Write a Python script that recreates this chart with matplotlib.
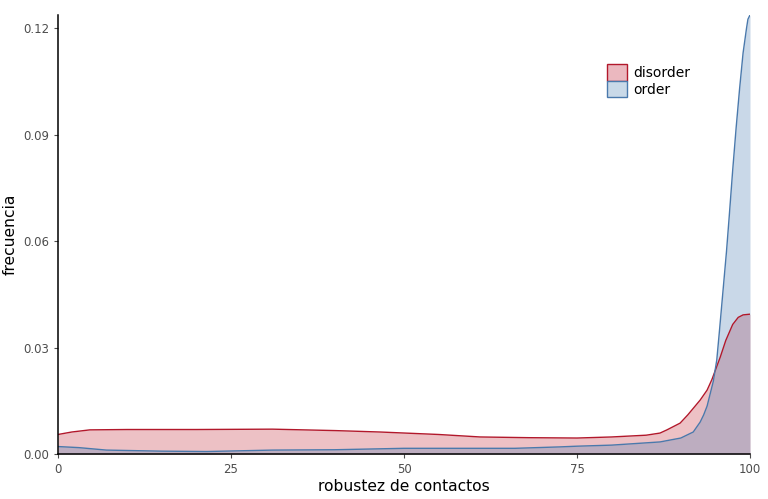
import numpy as np
from matplotlib import pyplot as plt
from matplotlib.patches import Patch

# density estimates
x_disorder = [0, 2, 4.6, 10, 20, 31, 40, 46.5, 55, 61, 68, 75, 80, 85, 87, 88,
              89.9, 91, 92.8, 93.8, 94.5, 95.7, 96.5, 97.5, 98.3, 99, 100]
y_disorder = [0.0055, 0.0062, 0.0068, 0.0069, 0.0069, 0.0070, 0.0066, 0.0062,
              0.0055, 0.0048, 0.0046, 0.0045, 0.0048, 0.0053, 0.0059, 0.0068,
              0.0087, 0.0110, 0.0152, 0.0180, 0.0210, 0.0273, 0.0320, 0.0365,
              0.0385, 0.0392, 0.0394]

x_order = [0, 3, 7, 15, 21.5, 31, 40, 50, 60, 66, 72.5, 75, 80, 87, 90,
           91.8, 92.8, 93.3, 93.8, 94.7, 95.2, 95.6, 96.1, 96.6, 97, 97.5,
           98, 98.5, 99, 99.5, 99.7, 100]
y_order = [0.0021, 0.0018, 0.0011, 0.0008, 0.0007, 0.0011, 0.0012, 0.0016,
           0.0016, 0.0016, 0.0020, 0.0022, 0.0025, 0.0034, 0.0045,
           0.0062, 0.0090, 0.0110, 0.0135, 0.0205, 0.0265, 0.0350, 0.0460,
           0.0570, 0.0670, 0.0800, 0.0920, 0.1030, 0.1130, 0.1200, 0.1225,
           0.1237]

groups = ["disorder", "order"]
y_ticks = [0.0, 0.03, 0.06, 0.09, 0.12]
x_ticks = [0, 25, 50, 75, 100]

red_line, red_fill = "#b2182b", "#c4323f"
blue_line, blue_fill = "#4a79ac", "#4f7fb5"

fig = plt.figure(figsize=(7.68, 4.99), dpi=100)
ax = fig.add_axes([58 / 768, 45 / 499, 692 / 768, 439 / 499])

ax.fill_between(x_disorder, y_disorder, 0, color=red_fill, alpha=0.3, lw=0)
ax.plot(x_disorder, y_disorder, color=red_line, lw=1)
ax.fill_between(x_order, y_order, 0, color=blue_fill, alpha=0.3, lw=0)
ax.plot(x_order, y_order, color=blue_line, lw=1)

ax.set_xlim(0, 100)
ax.set_ylim(0, 0.1237)
ax.set_xticks(x_ticks)
ax.set_yticks(y_ticks)
ax.set_yticklabels(["%.2f" % v for v in y_ticks])
ax.tick_params(colors="#4d4d4d", labelsize=8.5, length=3, width=0.8)
for s in ["top", "right"]:
    ax.spines[s].set_visible(False)
for s in ["left", "bottom"]:
    ax.spines[s].set_color("black")
    ax.spines[s].set_linewidth(1.1)

ax.set_xlabel("robustez de contactos", fontsize=11.2)
ax.set_ylabel("frecuencia", fontsize=11.2)
ax.xaxis.set_label_coords(0.5, -0.075)
ax.yaxis.set_label_coords(-0.069, 0.5)
ax.xaxis.label.set_va("center")
ax.yaxis.label.set_va("center")

handles = [
    Patch(facecolor=(0.92, 0.72, 0.75), edgecolor=red_line, lw=1),
    Patch(facecolor=(0.79, 0.85, 0.91), edgecolor=blue_line, lw=1),
]
ax.legend(handles, groups, loc="upper left", bbox_to_anchor=(0.785, 0.902),
          frameon=False, fontsize=10, handlelength=1.45, handleheight=1.5,
          handletextpad=0.45, labelspacing=0.0, borderaxespad=0)

fig.savefig("out.png", dpi=100)
